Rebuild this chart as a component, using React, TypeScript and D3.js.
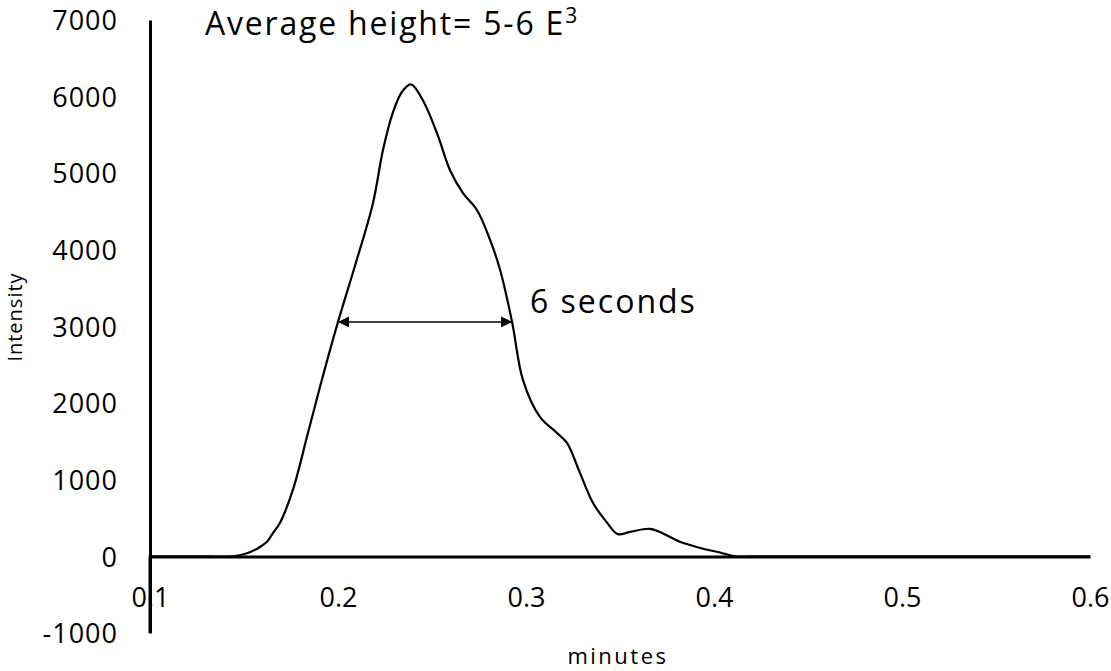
import React, { useRef, useEffect } from "react";
import { select, scaleLinear, axisLeft, axisBottom, line, curveCatmullRom } from "d3";

// peak trace (minutes, intensity)
const minutes = [
  0.1, 0.13, 0.144, 0.1516, 0.157, 0.1622, 0.1654, 0.1691, 0.176, 0.1835,
  0.1904, 0.2, 0.209, 0.2186, 0.2239, 0.2293, 0.234, 0.2388, 0.2452, 0.2527,
  0.2596, 0.2665, 0.2739, 0.2809, 0.2862, 0.2926, 0.2984, 0.3074, 0.3165,
  0.3218, 0.3287, 0.3356, 0.3431, 0.3489, 0.3553, 0.366, 0.3729, 0.3819,
  0.3926, 0.4032, 0.4112, 0.42, 0.5, 0.6,
];
const intensity = [
  0, 0, 0, 40, 100, 190, 305, 436, 867, 1560, 2210, 3060, 3790, 4610, 5300,
  5800, 6060, 6160, 5950, 5520, 5040, 4740, 4520, 4130, 3740, 3060, 2300,
  1820, 1610, 1480, 1090, 700, 440, 290, 320, 360, 300, 190, 110, 50, 0, 0, 0,
  0,
];

const yTicks = [-1000, 0, 1000, 2000, 3000, 4000, 5000, 6000, 7000];
const xTicks = [0.1, 0.2, 0.3, 0.4, 0.5, 0.6];

// full width at half height marker
const fwhmFrom = 0.2;
const fwhmTo = 0.2926;
const fwhmLevel = 3060;

const titleText = "Average height= 5-6 E";
const widthText = "6 seconds";

const font = "'Open Sans', sans-serif";

const PeakChart: React.FC = () => {
  const d3Element = useRef(null);

  const renderD3 = () => {
    const width = 1111,
      height = 671;

    const svg = select(d3Element.current)
      .append("svg")
      .attr("width", width)
      .attr("height", height)
      .style("position", "absolute")
      .style("left", 0)
      .style("top", 0)
      .style("background", "#fff");

    const xScale = scaleLinear().domain([0.1, 0.6]).range([150, 1090]);
    const yScale = scaleLinear().domain([-1000, 7000]).range([633, 20]);

    // y axis
    const yAxisG = svg
      .append("g")
      .attr("transform", `translate(${xScale(0.1)},0)`)
      .call(
        axisLeft(yScale)
          .tickValues(yTicks)
          .tickSize(0)
          .tickPadding(32)
          .tickFormat((d: any) => String(d))
      );
    yAxisG.select(".domain").attr("stroke", "#000").attr("stroke-width", 3);
    yAxisG
      .selectAll("text")
      .attr("font-family", font)
      .attr("font-size", 27)
      .attr("letter-spacing", 1)
      .attr("fill", "#000")
      .attr("dy", "0.36em");

    // x axis sits on zero
    const xAxisG = svg
      .append("g")
      .attr("transform", `translate(0,${yScale(0)})`)
      .call(
        axisBottom(xScale)
          .tickValues(xTicks)
          .tickSize(0)
          .tickPadding(31)
          .tickFormat((d: any) => String(d))
      );
    xAxisG.select(".domain").attr("stroke", "#000").attr("stroke-width", 3);
    xAxisG
      .selectAll("text")
      .attr("font-family", font)
      .attr("font-size", 27)
      .attr("fill", "#000");

    // redraw the y axis over the "0.1" label, like the original
    svg
      .append("line")
      .attr("x1", xScale(0.1))
      .attr("x2", xScale(0.1))
      .attr("y1", yScale(0))
      .attr("y2", yScale(-1000))
      .attr("stroke", "#000")
      .attr("stroke-width", 3);

    // axis titles
    svg
      .append("text")
      .attr("transform", `translate(22,317) rotate(-90)`)
      .attr("text-anchor", "middle")
      .attr("font-family", font)
      .attr("font-size", 20)
      .attr("letter-spacing", 1)
      .text("Intensity");

    svg
      .append("text")
      .attr("x", 618)
      .attr("y", 664)
      .attr("text-anchor", "middle")
      .attr("font-family", font)
      .attr("font-size", 22)
      .attr("letter-spacing", 2.5)
      .text("minutes");

    // trace
    const points: [number, number][] = minutes.map((m, i) => [m, intensity[i]]);
    const traceLine = line<[number, number]>()
      .x((d) => xScale(d[0]))
      .y((d) => yScale(d[1]))
      .curve(curveCatmullRom.alpha(0.5));

    svg
      .append("path")
      .attr("d", traceLine(points))
      .attr("fill", "none")
      .attr("stroke", "#000")
      .attr("stroke-width", 2.2);

    // double arrow
    const defs = svg.append("defs");
    defs
      .append("marker")
      .attr("id", "arrowHead")
      .attr("viewBox", "0 0 10 10")
      .attr("refX", 10)
      .attr("refY", 5)
      .attr("markerWidth", 13)
      .attr("markerHeight", 11)
      .attr("markerUnits", "userSpaceOnUse")
      .attr("orient", "auto-start-reverse")
      .append("path")
      .attr("d", "M0,0 L10,5 L0,10 z")
      .attr("fill", "#000");

    svg
      .append("line")
      .attr("x1", xScale(fwhmFrom))
      .attr("x2", xScale(fwhmTo))
      .attr("y1", yScale(fwhmLevel))
      .attr("y2", yScale(fwhmLevel))
      .attr("stroke", "#000")
      .attr("stroke-width", 1.5)
      .attr("marker-start", "url(#arrowHead)")
      .attr("marker-end", "url(#arrowHead)");

    svg
      .append("text")
      .attr("x", 530)
      .attr("y", 313)
      .attr("font-family", font)
      .attr("font-size", 32)
      .attr("letter-spacing", 2)
      .text(widthText);

    // title
    const title = svg
      .append("text")
      .attr("x", 205)
      .attr("y", 35)
      .attr("font-family", font)
      .attr("font-size", 32)
      .attr("letter-spacing", 1.8)
      .text(titleText);
    title
      .append("tspan")
      .attr("font-size", 21)
      .attr("dy", -12)
      .text("3");
  };

  useEffect(() => {
    select(d3Element.current).selectAll("svg").remove();
    renderD3();
  }, []);

  return <div ref={d3Element}></div>;
};

export default function App() {
  return <PeakChart />;
}
